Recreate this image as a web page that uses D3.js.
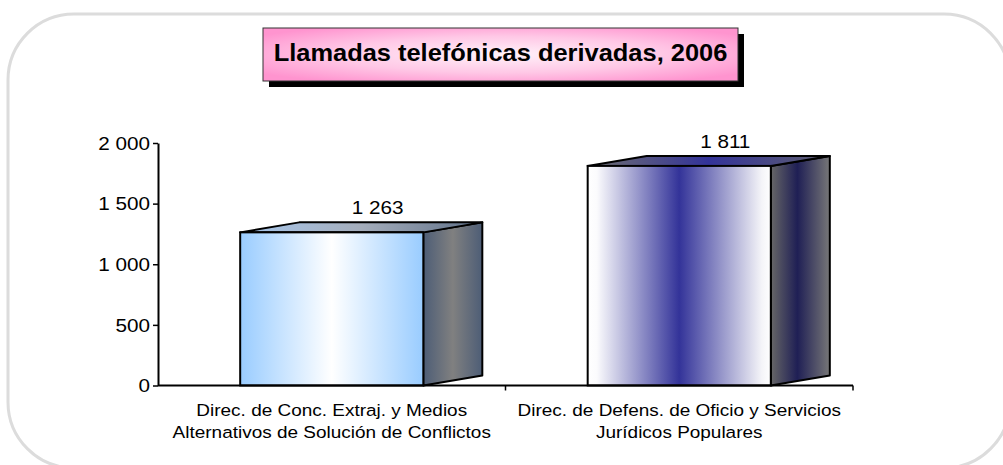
<!DOCTYPE html>
<html>
<head>
<meta charset="utf-8">
<script src="https://cdn.jsdelivr.net/npm/d3@7"></script>
<style>
  html, body { margin: 0; padding: 0; background: #ffffff; }
  svg { display: block; font-family: "Liberation Sans", Arial, sans-serif; }
</style>
</head>
<body>
<svg id="chart" width="1003" height="465"></svg>
<script>
// Chart data
const chartTitle = "Llamadas telefónicas derivadas, 2006";
const categories = [
  ["Direc. de Conc. Extraj. y Medios", "Alternativos de Solución de Conflictos"],
  ["Direc. de Defens. de Oficio y Servicios", "Jurídicos Populares"]
];
const values = [1263, 1811];
const yTicks = [0, 500, 1000, 1500, 2000];

const svg = d3.select("#chart");
const defs = svg.append("defs");

// Text is drawn slightly wide, as in the original layout
const STRETCH = 1.15;

// Number format with a space as thousands separator
const fmt = d3.formatLocale({ decimal: ",", thousands: " ", grouping: [3], currency: ["", ""] }).format(",d");

// Rounded frame around the whole chart
svg.append("rect")
  .attr("x", 8).attr("y", 14).attr("width", 1002).attr("height", 454)
  .attr("rx", 66).attr("ry", 66)
  .attr("fill", "#ffffff").attr("stroke", "#dcdcdc").attr("stroke-width", 3);

// Gradients
function linGrad(id, stops) {
  const g = defs.append("linearGradient").attr("id", id)
    .attr("x1", "0%").attr("y1", "0%").attr("x2", "100%").attr("y2", "0%");
  stops.forEach(([o, c]) => g.append("stop").attr("offset", o).attr("stop-color", c));
}
const barStyles = [
  {
    front: [[0, "#99ccff"], [0.5, "#ffffff"], [1, "#99ccff"]],
    side:  [[0, "#4d5d76"], [0.5, "#808080"], [1, "#4d5d76"]],
    top:   [[0, "#a8c8ee"], [0.5, "#a4adbb"], [1, "#5f7088"]]
  },
  {
    front: [[0, "#ffffff"], [0.05, "#fbfbfd"], [0.5, "#333399"], [0.95, "#f4f4f8"], [1, "#ffffff"]],
    side:  [[0, "#666666"], [0.45, "#1f1f55"], [1, "#777777"]],
    top:   [[0, "#707070"], [0.5, "#333399"], [1, "#606070"]]
  }
];
barStyles.forEach((s, i) => {
  linGrad("front" + i, s.front);
  linGrad("side" + i, s.side);
  linGrad("top" + i, s.top);
});

// Title box gradient (light centre, pink edges)
const tg = defs.append("radialGradient").attr("id", "titleGrad")
  .attr("cx", "50%").attr("cy", "50%").attr("r", "62%");
tg.append("stop").attr("offset", 0).attr("stop-color", "#fff2f9");
tg.append("stop").attr("offset", 0.55).attr("stop-color", "#ffc8e6");
tg.append("stop").attr("offset", 1).attr("stop-color", "#ff94cf");

// Plot area
const plot = { left: 158, right: 853, top: 143, bottom: 385.5 };
const depth = { dx: 59, dy: -10 };

const x = d3.scaleBand()
  .domain(d3.range(categories.length))
  .range([plot.left, plot.right])
  .paddingInner(0.473).paddingOuter(0.2365);

const y = d3.scaleLinear().domain([0, 2000]).range([plot.bottom, plot.top]);

// Helper: text anchored at (cx, cy), stretched horizontally
function wideText(sel, cx, cy, str, size, anchor, weight) {
  return sel.append("text")
    .attr("transform", `translate(${cx},${cy}) scale(${STRETCH},1)`)
    .attr("text-anchor", anchor || "middle")
    .attr("font-size", size)
    .attr("font-weight", weight || "normal")
    .attr("fill", "#000")
    .text(str);
}

// Bars (3D boxes)
const bars = svg.append("g").selectAll("g").data(values).join("g");
bars.each(function (v, i) {
  const g = d3.select(this);
  const x0 = x(i), x1 = x(i) + x.bandwidth();
  const yt = y(v), yb = y(0);
  const dx = depth.dx, dy = depth.dy;
  // side face
  g.append("path")
    .attr("d", `M${x1},${yb} L${x1 + dx},${yb + dy} L${x1 + dx},${yt + dy} L${x1},${yt} Z`)
    .attr("fill", `url(#side${i})`).attr("stroke", "#000").attr("stroke-width", 2).attr("stroke-linejoin", "round");
  // top face
  g.append("path")
    .attr("d", `M${x0},${yt} L${x0 + dx},${yt + dy} L${x1 + dx},${yt + dy} L${x1},${yt} Z`)
    .attr("fill", `url(#top${i})`).attr("stroke", "#000").attr("stroke-width", 2).attr("stroke-linejoin", "round");
  // front face
  g.append("rect")
    .attr("x", x0).attr("y", yt).attr("width", x1 - x0).attr("height", yb - yt)
    .attr("fill", `url(#front${i})`).attr("stroke", "#000").attr("stroke-width", 2);
  // value label
  wideText(g, x0 + x.bandwidth() / 2 + 46, yt + dy - 8, fmt(v), 18);
});

// Y axis
const yAxis = d3.axisLeft(y).tickValues(yTicks).tickSize(5).tickSizeOuter(0).tickPadding(3)
  .tickFormat(fmt);
const gy = svg.append("g").attr("transform", `translate(${plot.left},0)`).call(yAxis);
gy.select(".domain").attr("stroke", "#000").attr("stroke-width", 2);
gy.selectAll(".tick line").attr("stroke", "#000").attr("stroke-width", 1.5);
gy.selectAll(".tick text")
  .attr("x", 0).attr("dy", "0.35em")
  .attr("transform", `translate(-8,0) scale(${STRETCH},1)`)
  .attr("font-size", 18).attr("font-family", "Liberation Sans, Arial, sans-serif").attr("fill", "#000");

// X axis line with ticks at category boundaries
const gx = svg.append("g");
gx.append("line")
  .attr("x1", plot.left).attr("x2", plot.right).attr("y1", plot.bottom).attr("y2", plot.bottom)
  .attr("stroke", "#000").attr("stroke-width", 2);
const step = x.step();
const bounds = d3.range(categories.length + 1).map(k => plot.left + k * step);
gx.selectAll("line.tk").data(bounds.slice(1)).join("line").attr("class", "tk")
  .attr("x1", d => d).attr("x2", d => d)
  .attr("y1", plot.bottom).attr("y2", plot.bottom + 5)
  .attr("stroke", "#000").attr("stroke-width", 1.5);

// Category labels (two lines each)
categories.forEach((lines, i) => {
  lines.forEach((ln, k) => {
    wideText(gx, x(i) + x.bandwidth() / 2, 416 + k * 22, ln, 16.5);
  });
});

// Title box with drop shadow
const tb = { x: 263, y: 28, w: 475, h: 53 };
svg.append("rect").attr("x", tb.x + 6).attr("y", tb.y + 6).attr("width", tb.w).attr("height", tb.h).attr("fill", "#000");
svg.append("rect").attr("x", tb.x).attr("y", tb.y).attr("width", tb.w).attr("height", tb.h)
  .attr("fill", "url(#titleGrad)").attr("stroke", "#333").attr("stroke-width", 1);
svg.append("text")
  .attr("transform", `translate(${tb.x + tb.w / 2},${tb.y + 33}) scale(1.06,1)`)
  .attr("text-anchor", "middle").attr("font-size", 24).attr("font-weight", "bold").attr("fill", "#000")
  .text(chartTitle);
</script>
</body>
</html>
